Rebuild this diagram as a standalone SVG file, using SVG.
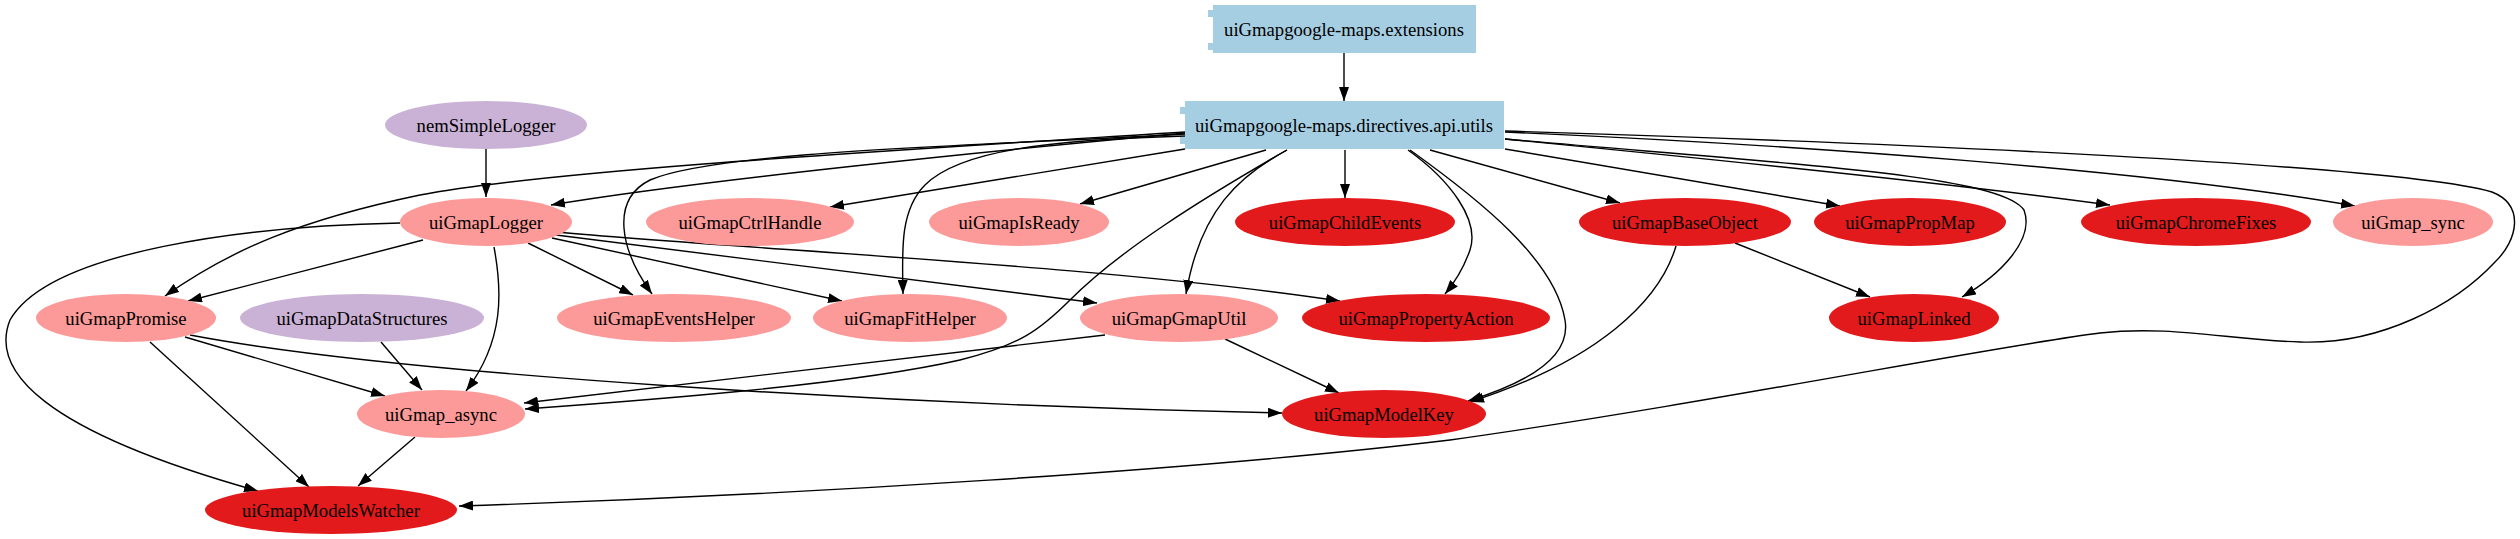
<svg xmlns="http://www.w3.org/2000/svg" width="2520" height="539" viewBox="0 0 2520 539">
<style>
text{font-family:"Liberation Serif","Times New Roman",serif;font-size:18.67px;fill:#000;text-anchor:middle}
.mod{fill:#a6cee3}
.pk{fill:#fb9a99}
.rd{fill:#e31a1c}
.lv{fill:#cab2d6}
#edges path{fill:none;stroke:#000;stroke-width:1.4;marker-end:url(#arr)}
</style>
<defs>
<marker id="arr" markerUnits="userSpaceOnUse" markerWidth="14" markerHeight="10" refX="14" refY="5" orient="auto">
<path d="M0,0 L14,5 L0,10 z" fill="#000"/>
</marker>
</defs>
<rect width="2520" height="539" fill="#fff"/>
<g id="edges">
<path d="M1344,53 L1344,101"/>
<path d="M486,149 L486,197"/>
<path d="M1185,133 C1000,150 700,180 551,205"/>
<path d="M1185,149 L830,207"/>
<path d="M1266,150 L1080,204"/>
<path d="M1345,150 L1345,198"/>
<path d="M1430,150 L1620,203"/>
<path d="M1505,149 L1840,206"/>
<path d="M1505,139 C1700,158 1950,183 2110,205"/>
<path d="M1505,139 C1800,165 2000,175 2024,210 C2035,240 2000,275 1962,297"/>
<path d="M1505,132 C1800,145 2150,170 2355,206"/>
<path d="M1505,131 C1900,143 2400,165 2492,192 C2525,205 2518,240 2495,262 C2455,305 2380,345 2300,342 C2230,340 2170,325 2100,333 C2000,345 1700,405 1450,440 C1200,470 800,495 459,506"/>
<path d="M1185,132 C900,150 550,170 420,195 C300,220 230,250 165,296"/>
<path d="M1185,134 C1000,145 720,150 650,180 C610,200 620,250 652,294"/>
<path d="M1185,136 C1050,140 960,150 925,185 C900,210 902,250 903,294"/>
<path d="M1287,150 C1240,175 1200,210 1186,294"/>
<path d="M1287,150 C1200,200 1120,250 1070,300 C1040,330 1020,345 960,360 C850,385 650,400 525,409"/>
<path d="M1408,150 C1450,180 1480,220 1470,250 C1463,270 1455,282 1445,294"/>
<path d="M1410,150 C1480,200 1555,260 1565,320 C1572,360 1520,385 1468,401"/>
<path d="M1676,246 C1660,300 1600,360 1470,402"/>
<path d="M1735,243 L1870,297"/>
<path d="M423,240 L188,301"/>
<path d="M400,223 C250,226 50,250 10,320 C-10,370 40,430 258,491"/>
<path d="M494,247 C502,290 505,340 466,391"/>
<path d="M528,243 L633,295"/>
<path d="M552,238 L842,301"/>
<path d="M556,235 L1097,303"/>
<path d="M557,232 C750,250 1100,265 1340,301"/>
<path d="M185,337 L385,396"/>
<path d="M150,342 L309,487"/>
<path d="M190,335 C400,375 900,405 1282,413"/>
<path d="M381,342 L422,390"/>
<path d="M415,437 L358,486"/>
<path d="M1105,335 L524,403"/>
<path d="M1225,339 L1339,393"/>
</g>
<g id="ext">
<rect class="mod" x="1213" y="5" width="263" height="48"/>
<rect class="mod" x="1208" y="10" width="10" height="7"/>
<rect class="mod" x="1208" y="43" width="10" height="7"/>
<text x="1344" y="35.5">uiGmapgoogle-maps.extensions</text>
</g>
<g id="utils">
<rect class="mod" x="1185" y="101" width="319" height="48"/>
<rect class="mod" x="1180" y="107" width="10" height="7"/>
<rect class="mod" x="1180" y="137" width="10" height="7"/>
<text x="1344" y="131.5">uiGmapgoogle-maps.directives.api.utils</text>
</g>
<g id="nemSimpleLogger"><ellipse class="lv" cx="486" cy="125" rx="101" ry="24"/><text x="486" y="131.5">nemSimpleLogger</text></g>
<g id="uiGmapLogger"><ellipse class="pk" cx="486" cy="222" rx="86" ry="24"/><text x="486" y="228.5">uiGmapLogger</text></g>
<g id="uiGmapCtrlHandle"><ellipse class="pk" cx="750" cy="222" rx="104" ry="24"/><text x="750" y="228.5">uiGmapCtrlHandle</text></g>
<g id="uiGmapIsReady"><ellipse class="pk" cx="1019" cy="222" rx="90" ry="24"/><text x="1019" y="228.5">uiGmapIsReady</text></g>
<g id="uiGmapChildEvents"><ellipse class="rd" cx="1345" cy="222" rx="110" ry="24"/><text x="1345" y="228.5">uiGmapChildEvents</text></g>
<g id="uiGmapBaseObject"><ellipse class="rd" cx="1685" cy="222" rx="106" ry="24"/><text x="1685" y="228.5">uiGmapBaseObject</text></g>
<g id="uiGmapPropMap"><ellipse class="rd" cx="1910" cy="222" rx="96" ry="24"/><text x="1910" y="228.5">uiGmapPropMap</text></g>
<g id="uiGmapChromeFixes"><ellipse class="rd" cx="2196" cy="222" rx="115" ry="24"/><text x="2196" y="228.5">uiGmapChromeFixes</text></g>
<g id="uiGmap_sync"><ellipse class="pk" cx="2413" cy="222" rx="80" ry="24"/><text x="2413" y="228.5">uiGmap_sync</text></g>
<g id="uiGmapPromise"><ellipse class="pk" cx="126" cy="318" rx="90" ry="24"/><text x="126" y="324.5">uiGmapPromise</text></g>
<g id="uiGmapDataStructures"><ellipse class="lv" cx="362" cy="318" rx="122" ry="24"/><text x="362" y="324.5">uiGmapDataStructures</text></g>
<g id="uiGmapEventsHelper"><ellipse class="pk" cx="674" cy="318" rx="117" ry="24"/><text x="674" y="324.5">uiGmapEventsHelper</text></g>
<g id="uiGmapFitHelper"><ellipse class="pk" cx="910" cy="318" rx="97" ry="24"/><text x="910" y="324.5">uiGmapFitHelper</text></g>
<g id="uiGmapGmapUtil"><ellipse class="pk" cx="1179" cy="318" rx="99" ry="24"/><text x="1179" y="324.5">uiGmapGmapUtil</text></g>
<g id="uiGmapPropertyAction"><ellipse class="rd" cx="1426" cy="318" rx="124" ry="24"/><text x="1426" y="324.5">uiGmapPropertyAction</text></g>
<g id="uiGmapLinked"><ellipse class="rd" cx="1914" cy="318" rx="85" ry="24"/><text x="1914" y="324.5">uiGmapLinked</text></g>
<g id="uiGmap_async"><ellipse class="pk" cx="441" cy="414" rx="84" ry="24"/><text x="441" y="420.5">uiGmap_async</text></g>
<g id="uiGmapModelKey"><ellipse class="rd" cx="1384" cy="414" rx="102" ry="24"/><text x="1384" y="420.5">uiGmapModelKey</text></g>
<g id="uiGmapModelsWatcher"><ellipse class="rd" cx="331" cy="510" rx="126" ry="24"/><text x="331" y="516.5">uiGmapModelsWatcher</text></g>
</svg>
